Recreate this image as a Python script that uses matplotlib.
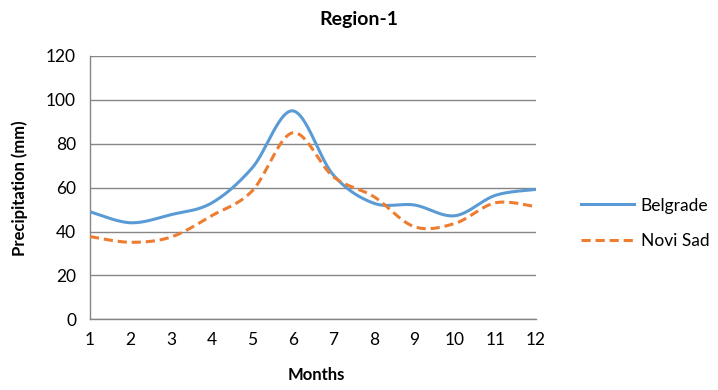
import numpy as np
import matplotlib
matplotlib.use("Agg")
import matplotlib.pyplot as plt
from matplotlib.lines import Line2D

months = [1, 2, 3, 4, 5, 6, 7, 8, 9, 10, 11, 12]
belgrade = [49, 44, 47.7, 53, 69, 95, 65.8, 52.9, 52.1, 47.2, 56.5, 59.2]
novi_sad = [37.7, 35.1, 37.5, 47.2, 58.5, 85, 65, 55.9, 42.2, 43.7, 53.1, 51.3]
series_names = ["Belgrade", "Novi Sad"]
yticks = [0, 20, 40, 60, 80, 100, 120]

plt.rcParams['font.family'] = ['Lato', 'DejaVu Sans']


def smooth(xs, ys, n=30):
    # Excel-like smoothed line: Catmull-Rom style cubic Bezier between points
    xs = np.asarray(xs, float)
    ys = np.asarray(ys, float)
    P = np.column_stack([xs, ys])
    out = []
    t = np.linspace(0, 1, n)
    for i in range(len(P) - 1):
        p0 = P[i - 1] if i > 0 else P[i]
        p1 = P[i]
        p2 = P[i + 1]
        p3 = P[i + 2] if i + 2 < len(P) else P[i + 1]
        c1 = p1 + (p2 - p0) / 6.0
        c2 = p2 - (p3 - p1) / 6.0
        seg = ((1 - t) ** 3)[:, None] * p1 + (3 * (1 - t) ** 2 * t)[:, None] * c1 \
            + (3 * (1 - t) * t ** 2)[:, None] * c2 + (t ** 3)[:, None] * p2
        out.append(seg if i == 0 else seg[1:])
    out = np.vstack(out)
    return out[:, 0], out[:, 1]


fig = plt.figure(figsize=(7.18, 3.90), dpi=100)
ax = fig.add_axes([90 / 718, (390 - 319.3) / 390, (536 - 90) / 718, (319.3 - 56) / 390])

blue = '#5B9BD5'
orange = '#ED7D31'

bx, by = smooth(months, belgrade)
nx, ny = smooth(months, novi_sad)
ax.plot(bx, by, color=blue, lw=2.2, solid_capstyle='round', zorder=3)
ax.plot(nx, ny, color=orange, lw=2.2, dashes=(3, 1.6), zorder=3)

ax.set_xlim(1, 12)
ax.set_ylim(0, 120)
ax.set_yticks(yticks)
ax.set_xticks(months)
ax.tick_params(axis='both', length=0, labelsize=12.5, colors='#000000')
ax.tick_params(axis='y', pad=10)
ax.tick_params(axis='x', pad=9)
for s in ['top', 'right']:
    ax.spines[s].set_visible(False)
for s in ['left', 'bottom']:
    ax.spines[s].set_color('#868686')
    ax.spines[s].set_linewidth(1)
ax.yaxis.grid(True, color='#868686', lw=1)
ax.set_axisbelow(True)

fig.text(0.5, 1 - 19 / 390, "Region-1", ha='center', va='center', fontsize=14, fontweight='bold')
fig.text(316 / 718, 1 - 375 / 390, "Months", ha='center', va='center', fontsize=12, fontweight='bold')
fig.text(20 / 718, 1 - 188 / 390, "Precipitation (mm)", rotation=90, ha='center', va='center',
         fontsize=12, fontweight='bold')

handles = [Line2D([0], [0], color=blue, lw=2.2),
           Line2D([0], [0], color=orange, lw=2.2, dashes=(3, 1.6))]
fig.legend(handles, series_names, loc='center left', bbox_to_anchor=(565 / 718, 1 - 223.5 / 390),
           frameon=False, fontsize=12.5, handlelength=3.1, handletextpad=0.35, labelspacing=1.15)

fig.savefig("out.png", dpi=100)
